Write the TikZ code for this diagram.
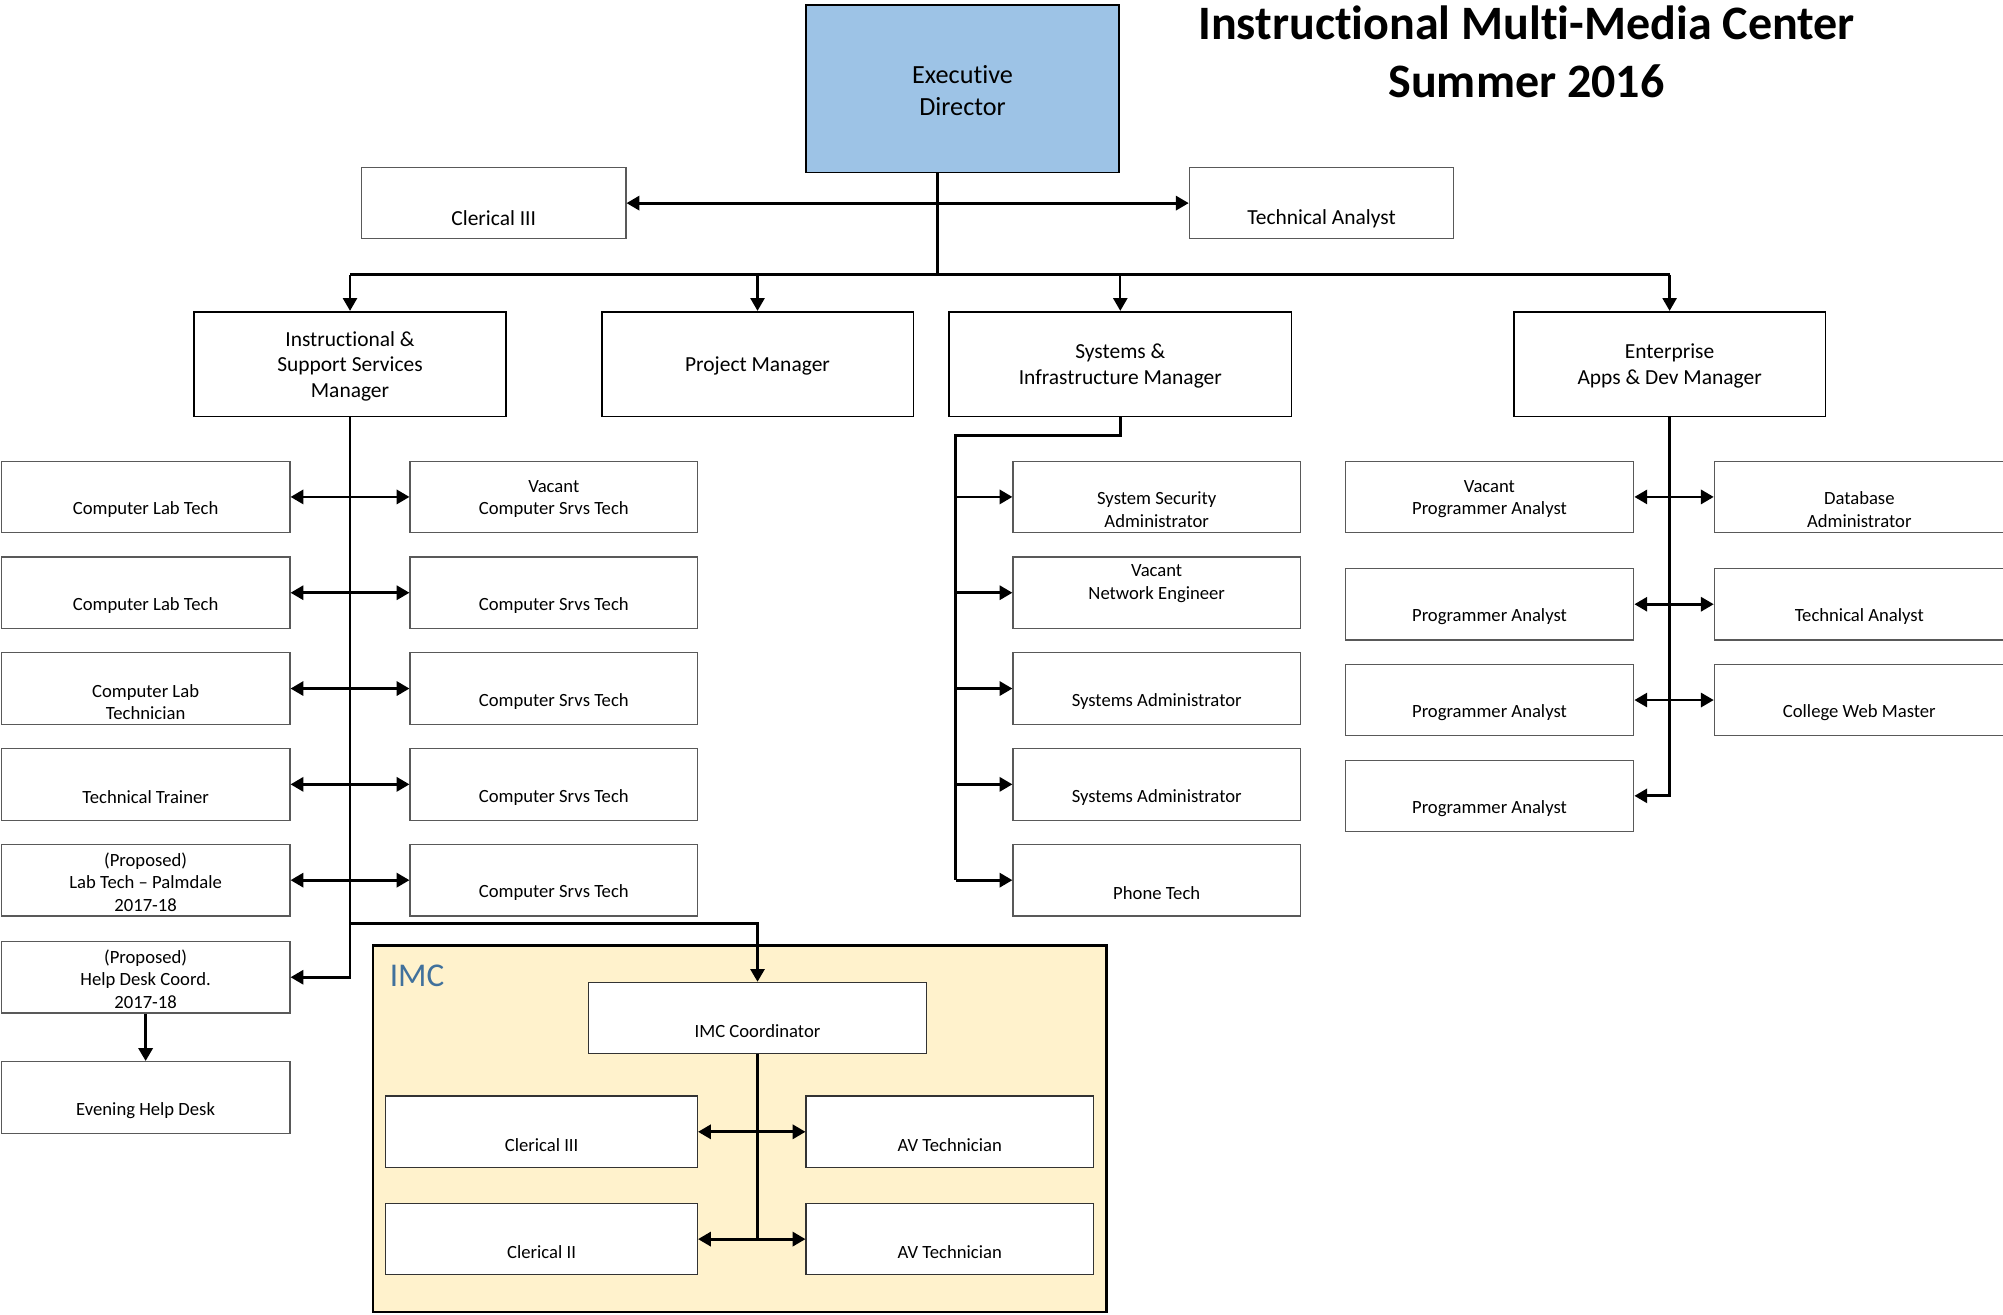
\documentclass[tikz,border=0pt]{standalone}
\usepackage{fontspec}
\setmainfont{Carlito}[Ligatures=NoCommon]
\usetikzlibrary{arrows.meta}
\definecolor{execblue}{HTML}{9DC3E6}
\definecolor{imcyellow}{HTML}{FFF2CC}
\definecolor{imcblue}{HTML}{41719C}
\tikzset{
  boxbase/.style={draw, rectangle, inner sep=0pt, fill=white},
  sbox/.style={boxbase, draw=black!65, line width=0.9pt, minimum width=226pt, minimum height=56pt},
  tbox/.style={boxbase, draw=black!65, line width=0.9pt, minimum width=207pt, minimum height=56pt},
  mbox/.style={boxbase, draw=black, line width=1.3pt, minimum height=82pt},
  stxt/.style={inner sep=0pt, align=center, font=\fontsize{14.6}{17.5}\selectfont},
  mtxt/.style={inner sep=0pt, align=center, font=\fontsize{16.8}{20}\selectfont},
  ln/.style={line width=2.2pt},
  arr/.style={line width=2.2pt, -{Triangle[length=10pt,width=11pt]}},
  darr/.style={line width=2.2pt, {Triangle[length=10pt,width=11pt]}-{Triangle[length=10pt,width=11pt]}},
  dn/.style={line width=1.8pt, -{Triangle[length=10pt,width=11pt]}},
}
% #1 style, #2 name, #3 x, #4 y, #5 text shift down, #6 text, #7 width
\newcommand\orgbox[7]{%
  \node[#1, minimum width=#7pt] (#2) at (#3,#4) {};
  \node[stxt] (#2t) at ([yshift=-#5pt-1.5pt]#2.center) {#6};
}
\begin{document}
\begin{tikzpicture}[x=1pt,y=-1pt]
\useasboundingbox (0,0) rectangle (1568,1029);

% title
\node[inner sep=0pt, align=center, font=\fontsize{37.6}{45}\selectfont\bfseries] (title) at (1195,40.5) {Instructional Multi-Media Center\\Summer 2016};

% IMC container
\node[draw=black, line width=2pt, fill=imcyellow, minimum width=574pt, minimum height=287pt, inner sep=0pt] (imc) at (579,883.5) {};
\node[anchor=west, inner sep=0pt, text=imcblue, font=\fontsize{26}{30}\selectfont] (imclbl) at (305,764) {IMC};

% executive
\node[boxbase, draw=black, line width=1.3pt, fill=execblue, minimum width=245pt, minimum height=131pt] (exec) at (753.5,69.5) {};
\node[inner sep=0pt, align=center, font=\fontsize{20.5}{25}\selectfont] (exect) at ([yshift=-1.5pt]exec.center) {Executive\\Director};

% top row
\node[tbox] (cl3) at (386.5,159) {};
\node[mtxt] (cl3t) at ([yshift=-12pt]cl3.center) {Clerical III};
\node[tbox] (ta) at (1034.5,159) {};
\node[mtxt] (tat) at ([yshift=-12pt]ta.center) {Technical Analyst};

% managers
\node[mbox, minimum width=244pt] (m1) at (274,285) {};
\node[mtxt] (m1t) at ([yshift=-1.5pt]m1.center) {Instructional \&\\Support Services\\Manager};
\node[mbox, minimum width=244pt] (m2) at (593,285) {};
\node[mtxt] (m2t) at ([yshift=-1.5pt]m2.center) {Project Manager};
\node[mbox, minimum width=268pt] (m3) at (877,285) {};
\node[mtxt] (m3t) at ([yshift=-1.5pt]m3.center) {Systems \&\\Infrastructure Manager};
\node[mbox, minimum width=244pt] (m4) at (1307,285) {};
\node[mtxt] (m4t) at ([yshift=-1.5pt]m4.center) {Enterprise\\Apps \& Dev Manager};

% instructional left column
\orgbox{sbox}{l1}{114}{389}{8.5}{Computer Lab Tech}{226}
\orgbox{sbox}{l2}{114}{464}{8.5}{Computer Lab Tech}{226}
\orgbox{sbox}{l3}{114}{539}{9}{Computer Lab\\Technician}{226}
\orgbox{sbox}{l4}{114}{614}{8.5}{Technical Trainer}{226}
\orgbox{sbox}{l5}{114}{689}{0}{(Proposed)\\Lab Tech -- Palmdale\\2017-18}{226}
\orgbox{sbox}{hd}{114}{765}{0}{(Proposed)\\Help Desk Coord.\\2017-18}{226}
\orgbox{sbox}{ev}{114}{859}{9}{Evening Help Desk}{226}
% instructional right column
\orgbox{sbox}{r1}{433.5}{389}{0}{Vacant\\Computer Srvs Tech}{225}
\orgbox{sbox}{r2}{433.5}{464}{8.5}{Computer Srvs Tech}{225}
\orgbox{sbox}{r3}{433.5}{539}{8.5}{Computer Srvs Tech}{225}
\orgbox{sbox}{r4}{433.5}{614}{8.5}{Computer Srvs Tech}{225}
\orgbox{sbox}{r5}{433.5}{689}{8.5}{Computer Srvs Tech}{225}

% systems column
\orgbox{sbox}{s1}{905.5}{389}{8.5}{System Security\\Administrator}{225}
\orgbox{sbox}{s2}{905.5}{464}{-8.5}{Vacant\\Network Engineer}{225}
\orgbox{sbox}{s3}{905.5}{539}{8.5}{Systems Administrator}{225}
\orgbox{sbox}{s4}{905.5}{614}{8.5}{Systems Administrator}{225}
\orgbox{sbox}{s5}{905.5}{689}{8.5}{Phone Tech}{225}

% enterprise columns
\orgbox{sbox}{e1}{1166}{389}{0}{Vacant\\Programmer Analyst}{226}
\orgbox{sbox}{e2}{1166}{473}{8.5}{Programmer Analyst}{226}
\orgbox{sbox}{e3}{1166}{548}{8.5}{Programmer Analyst}{226}
\orgbox{sbox}{e4}{1166}{623}{8.5}{Programmer Analyst}{226}
\node[sbox, minimum width=232pt] (f1) at (1458,389) {};
\node[stxt] (f1t) at ([yshift=-10pt]1455.5,389) {Database\\Administrator};
\node[sbox, minimum width=232pt] (f2) at (1458,473) {};
\node[stxt] (f2t) at ([yshift=-10pt]1455.5,473) {Technical Analyst};
\node[sbox, minimum width=232pt] (f3) at (1458,548) {};
\node[stxt] (f3t) at ([yshift=-10pt]1455.5,548) {College Web Master};

% IMC inner boxes
\orgbox{sbox, draw=black!80}{ic}{593}{797}{9}{IMC Coordinator}{264}
\orgbox{sbox, draw=black!80}{i1}{424}{886}{9}{Clerical III}{244}
\orgbox{sbox, draw=black!80}{i2}{743.5}{886}{9}{AV Technician}{225}
\orgbox{sbox, draw=black!80}{i3}{424}{970}{9}{Clerical II}{244}
\orgbox{sbox, draw=black!80}{i4}{743.5}{970}{9}{AV Technician}{225}

% ---------- connectors ----------
\coordinate (bus) at (734,215);
\draw[ln] (exec.south -| bus) -- (bus);
\draw[darr] (cl3.east) -- (ta.west);
\draw[ln] (bus -| m1) -- (bus -| m4);
\draw[dn] (bus -| m1) -- (m1.north);
\draw[dn] (bus -| m2) -- (m2.north);
\draw[dn] (bus -| m3) -- (m3.north);
\draw[dn] (bus -| m4) -- (m4.north);

% instructional
\draw[arr] (m1.south) |- (hd.east);
\draw[darr] (l1.east) -- (r1.west);
\draw[darr] (l2.east) -- (r2.west);
\draw[darr] (l3.east) -- (r3.west);
\draw[darr] (l4.east) -- (r4.west);
\draw[darr] (l5.east) -- (r5.west);
\coordinate (imcb) at (274,723);
\draw[arr] (imcb) -| (ic.north);
\draw[arr] (hd.south) -- (ev.north);

% systems
\coordinate (sj) at (748,341);
\draw[ln] (m3.south) |- (sj) -- (sj |- s5.west);
\draw[arr] (sj |- s1.west) -- (s1.west);
\draw[arr] (sj |- s2.west) -- (s2.west);
\draw[arr] (sj |- s3.west) -- (s3.west);
\draw[arr] (sj |- s4.west) -- (s4.west);
\draw[arr] (sj |- s5.west) -- (s5.west);

% enterprise
\draw[arr] (m4.south) |- (e4.east);
\draw[darr] (e1.east) -- (f1.west);
\draw[darr] (e2.east) -- (f2.west);
\draw[darr] (e3.east) -- (f3.west);

% IMC
\draw[ln] (ic.south) -- (ic.south |- i3.east);
\draw[darr] (i1.east) -- (i2.west);
\draw[darr] (i3.east) -- (i4.west);
\end{tikzpicture}
\end{document}
